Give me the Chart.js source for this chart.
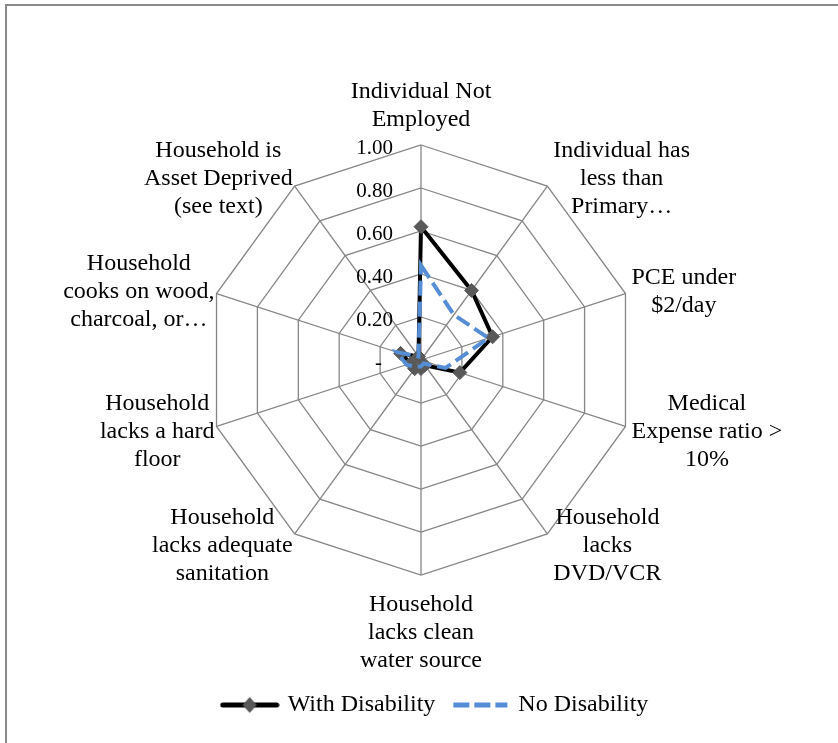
<!DOCTYPE html>
<html>
<head>
<meta charset="utf-8">
<script src="https://cdn.jsdelivr.net/npm/chart.js@4.4.1/dist/chart.umd.min.js"></script>
<style>
  html, body { margin: 0; padding: 0; background: #fff; overflow: hidden; }
  #wrap { position: relative; width: 838px; height: 743px; }
  #frame { position: absolute; left: 5px; top: 4px; width: 900px; height: 800px;
           border-top: 2px solid #8a8a8a; border-left: 2px solid #8a8a8a; }
  canvas { position: absolute; left: 0; top: 0; }
</style>
</head>
<body>
<div id="wrap">
  <div id="frame"></div>
  <canvas id="myChart" width="838" height="743"></canvas>
</div>
<script>
const categories = [
  ['Individual Not', 'Employed'],
  ['Individual has', 'less than', 'Primary…'],
  ['PCE under', '$2/day'],
  ['Medical', 'Expense ratio >', '10%'],
  ['Household', 'lacks', 'DVD/VCR'],
  ['Household', 'lacks clean', 'water source'],
  ['Household', 'lacks adequate', 'sanitation'],
  ['Household', 'lacks a hard', 'floor'],
  ['Household', 'cooks on wood,', 'charcoal, or…'],
  ['Household is', 'Asset Deprived', '(see text)']
];
const withDisability = [0.62, 0.40, 0.35, 0.19, 0.03, 0.04, 0.05, 0.05, 0.10, 0.02];
const noDisability = [0.44, 0.26, 0.33, 0.12, 0.02, 0.03, 0.04, 0.07, 0.12, 0.02];
const tickLabels = ['-', '0.20', '0.40', '0.60', '0.80', '1.00'];

const serif = "'Liberation Serif', 'Times New Roman', serif";

// little pictures for the legend: line + diamond, dashed line
function legendSwatch(color, dash, marker) {
  const c = document.createElement('canvas');
  c.width = 60; c.height = 20;
  const g = c.getContext('2d');
  g.strokeStyle = color;
  g.lineWidth = 5;
  g.lineCap = dash.length ? 'butt' : 'round';
  g.setLineDash(dash);
  g.beginPath(); g.moveTo(3, 10); g.lineTo(57, 10); g.stroke();
  if (marker) {
    g.fillStyle = '#595959';
    g.beginPath();
    g.moveTo(30, 2); g.lineTo(37, 10); g.lineTo(30, 18); g.lineTo(23, 10);
    g.closePath(); g.fill();
  }
  return c;
}
const swatches = [legendSwatch('#000', [], true), legendSwatch('#558ed5', [16, 5], false)];

const radarText = {
  id: 'radarText',
  beforeDatasetsDraw(chart) {
    const s = chart.scales.r;
    const ctx = chart.ctx;
    ctx.save();
    ctx.font = '21px ' + serif;
    ctx.fillStyle = '#000';
    ctx.textAlign = 'right';
    ctx.textBaseline = 'middle';
    s.ticks.forEach((t, i) => {
      const p = s.getPointPositionForValue(0, t.value);
      ctx.fillText(tickLabels[i], p.x - 28 - (i === 0 ? 11 : 0), p.y + 3);
    });
    ctx.restore();
  },
  afterDraw(chart) {
    const s = chart.scales.r;
    const ctx = chart.ctx;
    const lh = 28;
    ctx.save();
    ctx.font = '24px ' + serif;
    ctx.fillStyle = '#000';
    ctx.textAlign = 'center';
    ctx.textBaseline = 'middle';
    categories.forEach((lines, i) => {
      const v = s.getPointPosition(i, s.drawingArea);
      const a = i * 2 * Math.PI / categories.length;
      const sin = Math.sin(a), cos = Math.cos(a);
      const w = Math.max(...lines.map(l => ctx.measureText(l).width));
      const h = lines.length * lh;
      let cx, cy;
      if (Math.abs(sin) < 0.01) {
        cx = v.x;
        cy = cos > 0 ? v.y - 11 - h / 2 : v.y + 16 + h / 2;
      } else {
        cx = sin > 0 ? v.x + 6 + w / 2 : v.x - 2 - w / 2;
        cy = v.y - cos * 12 + 2;
      }
      lines.forEach((l, k) => ctx.fillText(l, cx, cy - h / 2 + lh / 2 + k * lh));
    });
    ctx.restore();
  }
};

const ctx = document.getElementById('myChart').getContext('2d');
// eslint-disable-next-line no-undef
const chart = new Chart(ctx, {
  type: 'radar',
  data: {
    labels: categories,
    datasets: [{
      label: 'With Disability',
      data: withDisability,
      borderColor: '#000',
      borderWidth: 4,
      borderJoinStyle: 'round',
      pointStyle: 'rectRot',
      pointRadius: 7,
      pointBackgroundColor: '#595959',
      pointBorderColor: '#595959',
      pointBorderWidth: 1,
      fill: false,
      order: 1
    },
    {
      label: 'No Disability',
      data: noDisability,
      borderColor: '#558ed5',
      borderWidth: 4,
      borderDash: [15, 6],
      pointRadius: 0,
      fill: false,
      order: 0
    }]
  },
  options: {
    responsive: false,
    animation: false,
    devicePixelRatio: 1,
    layout: { padding: { left: 34, bottom: 16 } },
    scales: {
      r: {
        min: 0,
        max: 1,
        ticks: { stepSize: 0.2, display: false },
        pointLabels: { display: false },
        grid: { color: '#868686', lineWidth: 1.3 },
        angleLines: { color: '#868686', lineWidth: 1.3 },
        afterFit(s) {
          s.xCenter = 421;
          s.yCenter = 360;
          s.drawingArea = 215;
        }
      }
    },
    plugins: {
      tooltip: { enabled: false },
      legend: {
        position: 'bottom',
        labels: {
          usePointStyle: true,
          pointStyleWidth: 52,
          padding: 19,
          color: '#000',
          font: { family: serif, size: 24 },
          generateLabels(c) {
            return c.data.datasets.map((d, i) => ({
              text: d.label,
              pointStyle: swatches[i],
              fillStyle: 'transparent',
              strokeStyle: 'transparent',
              lineWidth: 0,
              hidden: false,
              datasetIndex: i,
              fontColor: '#000'
            }));
          }
        }
      }
    }
  },
  plugins: [radarText]
});
</script>
</body>
</html>
